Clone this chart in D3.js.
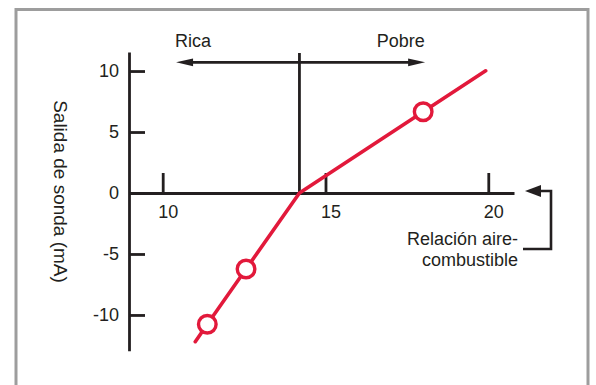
<!DOCTYPE html>
<html>
<head>
<meta charset="utf-8">
<script src="https://cdn.jsdelivr.net/npm/d3@7"></script>
<style>
  html, body { margin: 0; padding: 0; background: #ffffff; }
  svg { display: block; font-family: "Liberation Sans", Arial, Helvetica, sans-serif; }
</style>
</head>
<body>
<svg id="chart" width="596" height="385"></svg>
<script>
// ---- data ----
const xTicks = [10, 15, 20];
const yTicks = [10, 5, 0, -5, -10];
const curveX = [11.0, 11.37, 12.56, 14.2, 18.0, 19.92];
const curveY = [-12.19, -10.76, -6.23, 0, 6.66, 10.02];
const markerX = [11.37, 12.56, 18.0];
const markerY = [-10.76, -6.23, 6.66];
const stoichX = 14.2;          // vertical divider
const arrowLevel = 10.71;      // Rica / Pobre arrow level
const richEnd = 10.41;
const leanEnd = 18.06;
const regionLabels = ["Rica", "Pobre"];
const regionLabelX = [10.93, 17.31];
const yTitle = "Salida de sonda (mA)";
const xTitle = ["Relación aire-", "combustible"];

// ---- styles ----
const ink = "#231f20";
const red = "#e2193b";

const svg = d3.select("#chart");

// frame
svg.append("rect")
  .attr("x", 16).attr("y", 9.5).attr("width", 572).attr("height", 420)
  .attr("fill", "none").attr("stroke", "#9d9d9d").attr("stroke-width", 3);

// scales
const x = d3.scaleLinear().domain([8.965, 20.79]).range([129, 514]);
const y = d3.scaleLinear().domain([-12.93, 11.56]).range([350.7, 52]);
const fmt = d => String(d).replace("\u2212", "-");

// x axis (ticks upward, labels below)
const gx = svg.append("g")
  .attr("transform", `translate(0,${y(0)})`)
  .call(d3.axisBottom(x).tickValues(xTicks).tickFormat(fmt)
        .tickSize(-20).tickSizeOuter(0).tickPadding(12));
gx.select(".domain").attr("stroke", ink).attr("stroke-width", 2.8);
gx.selectAll(".tick line").attr("stroke", ink).attr("stroke-width", 2.8);
gx.selectAll(".tick text").attr("fill", ink).attr("font-size", 18)
  .attr("font-family", "Liberation Sans, Arial, sans-serif").attr("dx", 5);

// y axis (ticks rightward, labels left)
const gy = svg.append("g")
  .attr("transform", `translate(${x.range()[0]},0)`)
  .call(d3.axisLeft(y).tickValues(yTicks).tickFormat(fmt)
        .tickSize(-16).tickSizeOuter(0).tickPadding(10));
gy.select(".domain").attr("stroke", ink).attr("stroke-width", 2.8);
gy.selectAll(".tick line").attr("stroke", ink).attr("stroke-width", 2.8);
gy.selectAll(".tick text").attr("fill", ink).attr("font-size", 18)
  .attr("font-family", "Liberation Sans, Arial, sans-serif");

// vertical divider
svg.append("line")
  .attr("x1", x(stoichX)).attr("x2", x(stoichX))
  .attr("y1", y(11.48)).attr("y2", y(0))
  .attr("stroke", ink).attr("stroke-width", 2.8);

// horizontal arrow (Rica <-> Pobre)
const aY = y(arrowLevel);
svg.append("line")
  .attr("x1", x(richEnd) + 10).attr("x2", x(leanEnd) - 10)
  .attr("y1", aY).attr("y2", aY)
  .attr("stroke", ink).attr("stroke-width", 2.6);
function arrowHead(tipX, tipY, dir, len, half) {
  const b = tipX - dir * len;
  svg.append("path")
    .attr("d", `M${tipX},${tipY}L${b},${tipY - half}L${b},${tipY + half}Z`)
    .attr("fill", ink);
}
arrowHead(x(richEnd), aY, -1, 17, 3.8);
arrowHead(x(leanEnd), aY, 1, 17, 3.8);

svg.selectAll("text.region").data(regionLabels).join("text")
  .attr("class", "region")
  .attr("x", (d, i) => x(regionLabelX[i]))
  .attr("y", 46.7)
  .attr("text-anchor", "middle")
  .attr("font-size", 18).attr("fill", ink)
  .text(d => d);

// x title bracket arrow
const bx0 = x.range()[1] + 11;
const by0 = y(0) - 2;
const by1 = 249;
svg.append("path")
  .attr("d", `M${bx0},${by0}L${bx0 + 16},${by0 - 6}L${bx0 + 16},${by0 + 6}Z`)
  .attr("fill", ink);
svg.append("path")
  .attr("d", `M${bx0 + 14},${by0}H${551}V${by1}H${523}`)
  .attr("fill", "none").attr("stroke", ink).attr("stroke-width", 2.6);

svg.selectAll("text.xtitle").data(xTitle).join("text")
  .attr("class", "xtitle")
  .attr("x", 518)
  .attr("y", (d, i) => 245 + i * 21)
  .attr("text-anchor", "end")
  .attr("font-size", 18).attr("fill", ink)
  .text(d => d);

// y title
svg.append("text")
  .attr("transform", `translate(54,191.5) rotate(90)`)
  .attr("text-anchor", "middle")
  .attr("font-size", 19).attr("fill", ink)
  .text(yTitle);

// red curve
const pts = curveX.map((v, i) => [v, curveY[i]]);
svg.append("path")
  .datum(pts)
  .attr("d", d3.line().x(d => x(d[0])).y(d => y(d[1])))
  .attr("fill", "none").attr("stroke", red).attr("stroke-width", 3.6)
  .attr("stroke-linecap", "round").attr("stroke-linejoin", "round");

svg.selectAll("circle.mk").data(markerX).join("circle")
  .attr("class", "mk")
  .attr("cx", d => x(d))
  .attr("cy", (d, i) => y(markerY[i]))
  .attr("r", 8.8)
  .attr("fill", "#ffffff").attr("stroke", red).attr("stroke-width", 3.4);
</script>
</body>
</html>
